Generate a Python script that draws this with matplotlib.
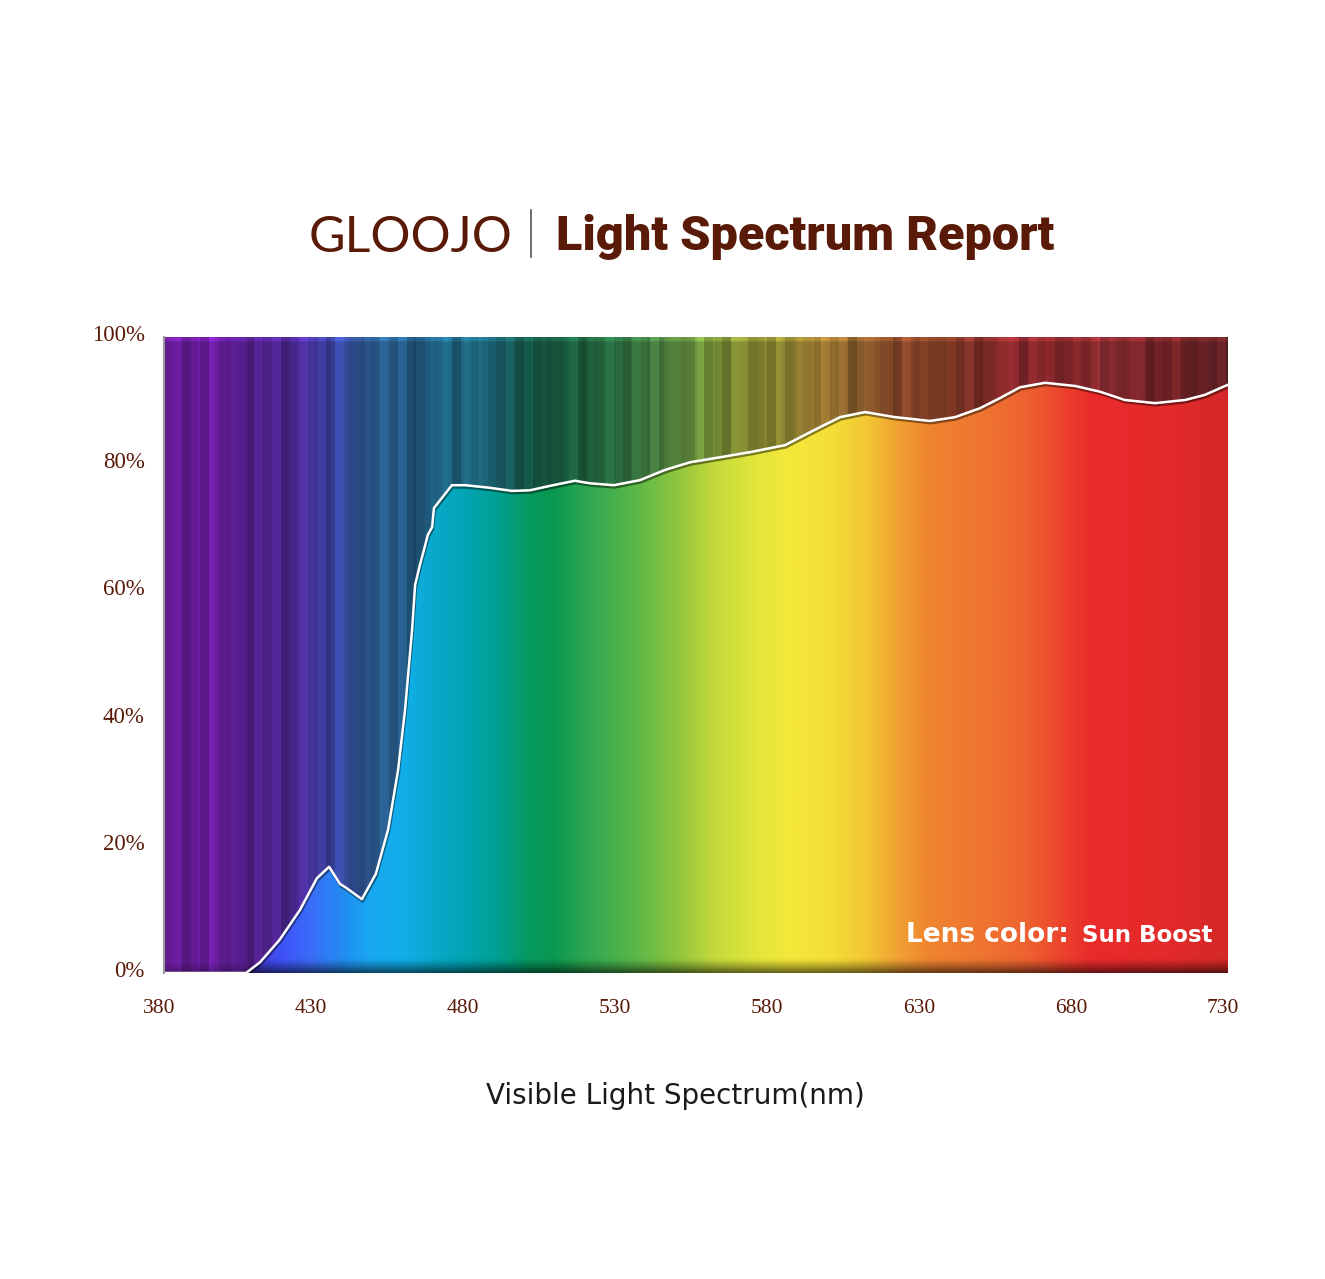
import numpy as np
import matplotlib
matplotlib.use("Agg")
import matplotlib.pyplot as plt
import matplotlib.patheffects as pe
import matplotlib.transforms as mtransforms
from matplotlib.patches import Polygon
from matplotlib.colors import to_rgb

# ---------------- data ----------------
wavelength_nm = [380, 407, 411.6, 418, 424.7, 430.3, 434.3, 437.9, 439.9, 445.1, 449.7,
                 453.7, 457, 459.3, 461.6, 462.6, 464.2, 465.5, 466.8, 468.2, 468.8,
                 474.7, 479, 487, 494.5, 500.4, 507, 515.2, 520, 528, 536.6, 544.8,
                 553, 563, 572.8, 584.3, 594, 602.4, 610.6, 620.5, 632, 640.2, 648.4,
                 655, 661.6, 669.8, 679.7, 687.9, 696, 706, 715.9, 722.4, 730]
transmission_pct = [0, 0, 1.7, 5.2, 9.9, 14.9, 16.7, 14.0, 13.4, 11.6, 15.6,
                    22.5, 31.9, 41.4, 53.9, 61.0, 64.2, 66.5, 68.9, 70.1, 73.1,
                    76.7, 76.7, 76.3, 75.8, 75.9, 76.6, 77.4, 77.0, 76.7, 77.5, 79.1,
                    80.3, 81.1, 81.9, 83.0, 85.4, 87.4, 88.2, 87.4, 86.8, 87.4, 88.8,
                    90.4, 92.1, 92.8, 92.3, 91.4, 90.1, 89.6, 90.1, 90.9, 92.5]
x_ticks = [380, 430, 480, 530, 580, 630, 680, 730]
y_ticks = [0, 20, 40, 60, 80, 100]
y_labels = ["0%", "20%", "40%", "60%", "80%", "100%"]

# background colour anchors (styling)
upper_nm = [380, 395, 410, 425, 436, 445, 452, 462, 475, 488, 500, 515, 530, 545, 557,
            570, 583, 595, 608, 622, 635, 648, 660, 675, 690, 705, 730]
upper_col = ["#5e1a88", "#661c9a", "#4e1e84", "#4a2a94", "#3a46a4", "#2a4a80", "#2a5f90",
             "#1f5276", "#1f6682", "#1c6070", "#135040", "#1a5a3a", "#2a6a3e", "#4a7a3c",
             "#6a8a38", "#7e8430", "#7e7a2c", "#9a7a32", "#855a2a", "#824428", "#7a3c24",
             "#762a24", "#8e2a2e", "#7c2428", "#842a2e", "#722226", "#5e2024"]
lower_nm = [380, 405, 418, 428, 440, 448, 460, 470, 480, 490, 500, 508, 520, 535, 548,
            560, 572, 585, 600, 612, 622, 632, 650, 665, 678, 686, 710, 730]
lower_col = ["#5a1a8a", "#4a30c0", "#4050f8", "#3a6cf8", "#2090f0", "#18a8f0", "#10aee8",
             "#08a8c8", "#00a4b0", "#00a090", "#069a60", "#0a9850", "#30a850", "#5ab848",
             "#8cc43e", "#c0d83c", "#dce43a", "#f4e83a", "#f4de36", "#f2c434", "#f0a032",
             "#f08430", "#ee7430", "#ee6030", "#ec3c2c", "#ea2a2c", "#e42a2a", "#d42828"]

BROWN = "#5a1a08"

fig = plt.figure(figsize=(13.25, 12.79), dpi=100)
W, H = 1325, 1279
ax = fig.add_axes([164 / W, 1 - 973 / H, (1228 - 164) / W, (973 - 337) / H])
ax.set_xlim(380, 730)
ax.set_ylim(0, 100)

nx, ny = 1064, 300
xs = np.linspace(380, 730, nx)
ys = np.linspace(100, 0, ny)


def grad(nm, cols):
    c = np.array([to_rgb(k) for k in cols])
    return np.stack([np.interp(xs, nm, c[:, i]) for i in range(3)], axis=1)


# upper striped band
up = grad(upper_nm, upper_col)
px = np.arange(nx)
band = (px // 9)
stripe = 1 + 0.10 * np.sin(band * 2.7) + 0.06 * np.sin(band * 1.3 + 0.5) + 0.04 * np.sign(np.sin(px / 5.3))
up = np.clip(up * stripe[:, None], 0, 1)
upper_img = np.repeat(up[None, :, :], ny, axis=0)

lo = grad(lower_nm, lower_col)
lower_img = np.repeat(lo[None, :, :], ny, axis=0)

# dark shading near bottom edge
shade = 1 - 0.55 * np.clip((2.2 - ys) / 2.2, 0, 1) ** 1.3
lower_img = lower_img * shade[:, None, None]
upper_img = upper_img * (1 - 0.25 * np.clip((1.5 - ys) / 1.5, 0, 1))[:, None, None]
upper_img[:2] = np.clip(upper_img[:2] * 1.25, 0, 1)

ax.imshow(upper_img, extent=[380, 730, 0, 100], aspect="auto", interpolation="bilinear", zorder=1)
verts = list(zip(wavelength_nm, transmission_pct)) + [(730, 0), (380, 0)]
poly = Polygon(verts, closed=True, transform=ax.transData, facecolor="none", edgecolor="none")
ax.add_patch(poly)
im2 = ax.imshow(lower_img, extent=[380, 730, 0, 100], aspect="auto", interpolation="bilinear", zorder=2)
im2.set_clip_path(poly)

ax.plot(wavelength_nm, transmission_pct, color="white", lw=1.8, zorder=4,
        path_effects=[pe.SimpleLineShadow(offset=(0.6, -1.6), shadow_color="black", alpha=0.45),
                      pe.Normal()])

for s in ["top", "right", "bottom"]:
    ax.spines[s].set_visible(False)
ax.spines["left"].set_color("#9a9a9a")
ax.spines["left"].set_linewidth(1.5)
ax.spines["left"].set_zorder(5)

ax.set_xticks(x_ticks)
ax.set_xticklabels([str(v) for v in x_ticks])
ax.set_yticks(y_ticks)
ax.set_yticklabels(y_labels)
ax.tick_params(axis="both", length=0, colors=BROWN)
ax.tick_params(axis="x", pad=19, labelsize=15.5)
ax.tick_params(axis="y", pad=14, labelsize=16.5)
for lab in ax.get_xticklabels():
    lab.set_fontfamily("Liberation Serif")
    lab.set_color(BROWN)
    lab.set_transform(lab.get_transform() + mtransforms.ScaledTranslation(-5 / 100, 0, fig.dpi_scale_trans))
for lab in ax.get_yticklabels():
    lab.set_fontfamily("Liberation Serif")
    lab.set_color(BROWN)
    lab.set_transform(lab.get_transform() + mtransforms.ScaledTranslation(0, 4 / 100, fig.dpi_scale_trans))

ax.text((906 - 164) / (1228 - 164), (973 - 942) / (973 - 337), "Lens color:",
        transform=ax.transAxes, color="white", fontsize=19, fontweight="bold",
        family="DejaVu Sans", ha="left", va="baseline", zorder=6)
ax.text((1212 - 164) / (1228 - 164), (973 - 942) / (973 - 337), "Sun Boost",
        transform=ax.transAxes, color="white", fontsize=16.5, fontweight="bold",
        family="DejaVu Sans", ha="right", va="baseline", zorder=6)

# title
fig.text(411 / W, 1 - 252 / H, "GLOOJO", family="Lato", fontweight="normal", fontsize=36,
         color=BROWN, ha="center", va="baseline")
fig.add_artist(plt.Line2D([531 / W, 531 / W], [1 - 257 / H, 1 - 210 / H], color="#555555", lw=1.2))
fig.text(556 / W, 1 - 250 / H, "Light Spectrum Report", family="Roboto", fontweight="heavy",
         fontsize=35, color=BROWN, ha="left", va="baseline")

fig.text(675 / W, 1 - 1104 / H, "Visible Light Spectrum(nm)", family="DejaVu Sans", fontsize=20,
         color="#1a1a1a", ha="center", va="baseline")

fig.savefig("out.png", dpi=100, facecolor="white")
